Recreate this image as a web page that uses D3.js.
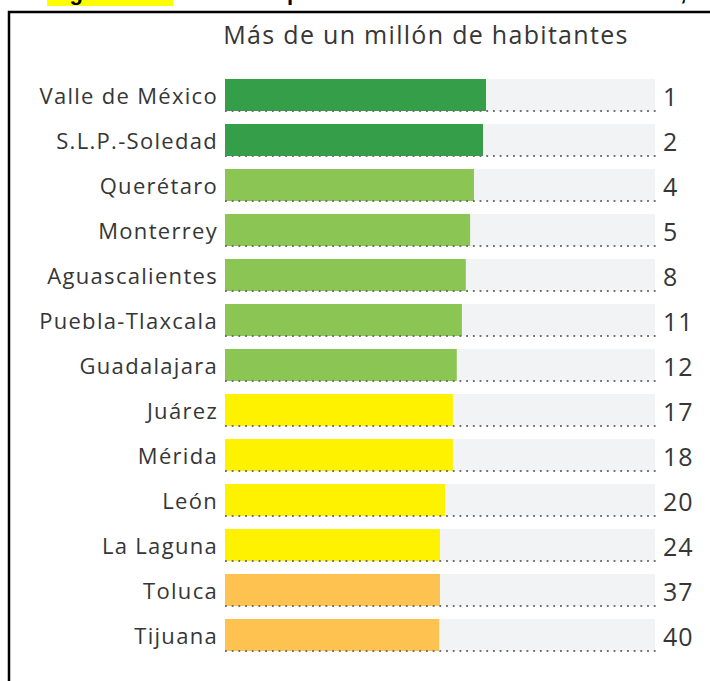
<!DOCTYPE html>
<html>
<head>
<meta charset="utf-8">
<script src="https://cdn.jsdelivr.net/npm/d3@7"></script>
<style>
  html, body { margin: 0; padding: 0; background: #fff; }
  svg { display: block; }
</style>
</head>
<body>
<svg id="chart" width="710" height="681"></svg>
<script>
// Metropolitan areas with more than one million inhabitants
const cities = ["Valle de México", "S.L.P.-Soledad", "Querétaro", "Monterrey", "Aguascalientes",
  "Puebla-Tlaxcala", "Guadalajara", "Juárez", "Mérida", "León", "La Laguna", "Toluca", "Tijuana"];
const scores = [60.7, 60.0, 57.9, 57.0, 56.0, 55.1, 53.9, 53.0, 53.0, 51.2, 50.0, 50.0, 49.8];
const ranks = [1, 2, 4, 5, 8, 11, 12, 17, 18, 20, 24, 37, 40];
const groups = ["top", "top", "high", "high", "high", "high", "high", "mid", "mid", "mid", "mid", "low", "low"];
const groupColors = { top: "#349e48", high: "#8bc553", mid: "#fff200", low: "#fdc24f" };
const scoreMax = 100;

const svg = d3.select("#chart");
const fontFamily = "'Open Sans', sans-serif";

// Caption strip running off the top edge
svg.append("rect").attr("x", 47).attr("y", -20).attr("width", 126).attr("height", 26).attr("fill", "#ffff00");
svg.append("text").attr("x", 50).attr("y", 0)
  .attr("font-family", "Arial, sans-serif").attr("font-weight", "bold").attr("font-size", 22)
  .attr("fill", "#000").text("Figura 3.");
svg.append("text").attr("x", 235).attr("y", 0)
  .attr("font-family", "Arial, sans-serif").attr("font-weight", "bold").attr("font-size", 22)
  .attr("letter-spacing", 1)
  .attr("fill", "#000").text("Competitividad urbana de las ciudades, 2021");

// Frame
svg.append("rect").attr("x", 9).attr("y", 12).attr("width", 760).attr("height", 740)
  .attr("fill", "none").attr("stroke", "#000").attr("stroke-width", 2.5);

const x = d3.scaleLinear().domain([0, scoreMax]).range([225, 655]);
const y = d3.scaleBand().domain(cities).range([72.5, 72.5 + cities.length * 45])
  .paddingInner(13 / 45).paddingOuter(6.5 / 45);

svg.append("text").attr("x", 426).attr("y", 44).attr("text-anchor", "middle")
  .attr("font-family", fontFamily).attr("font-size", 25).attr("letter-spacing", 1.3)
  .attr("fill", "#363636")
  .text("Más de un millón de habitantes");

const rows = svg.append("g").selectAll("g").data(cities).join("g");

// Full-scale track
rows.append("rect")
  .attr("x", x(0)).attr("y", d => y(d))
  .attr("width", x(scoreMax) - x(0)).attr("height", y.bandwidth())
  .attr("fill", "#f2f3f5");

// Score bar
rows.append("rect")
  .attr("x", x(0)).attr("y", d => y(d))
  .attr("width", (d, i) => x(scores[i]) - x(0)).attr("height", y.bandwidth())
  .attr("fill", (d, i) => groupColors[groups[i]]);

// Dotted baseline under each row
rows.append("line")
  .attr("x1", x(0)).attr("x2", x(scoreMax) + 1)
  .attr("y1", d => y(d) + y.bandwidth()).attr("y2", d => y(d) + y.bandwidth())
  .attr("stroke", "#6f6f6f").attr("stroke-width", 1.8)
  .attr("stroke-dasharray", "1.8 4.9");

// City names
rows.append("text")
  .attr("x", 218).attr("y", d => y(d) + y.bandwidth() / 2 + 1)
  .attr("dy", "0.35em").attr("text-anchor", "end")
  .attr("font-family", fontFamily).attr("font-size", 22).attr("letter-spacing", 1.3)
  .attr("fill", "#363636")
  .text(d => d);

// Rank numbers
rows.append("text")
  .attr("x", 663).attr("y", d => y(d) + y.bandwidth() / 2 + 2)
  .attr("dy", "0.35em")
  .attr("font-family", fontFamily).attr("font-size", 25).attr("letter-spacing", 1)
  .attr("fill", "#363636")
  .text((d, i) => ranks[i]);
</script>
</body>
</html>
